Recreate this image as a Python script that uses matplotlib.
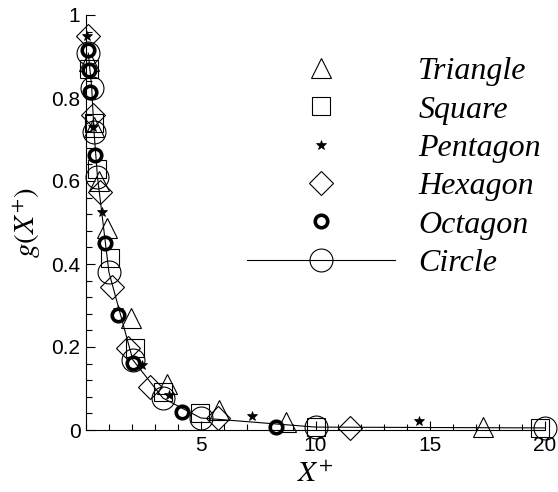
import matplotlib
matplotlib.use('Agg')
from matplotlib import pyplot as plt
from matplotlib.ticker import MultipleLocator

# Data
triangle_x = [0.12, 0.35, 0.55, 0.91, 1.95, 3.55, 5.8, 8.7, 17.3]
triangle_y = [0.89, 0.73, 0.60, 0.487, 0.27, 0.11, 0.048, 0.02, 0.007]

square_x = [0.15, 0.35, 0.5, 1.04, 2.13, 3.35, 4.96, 10.0, 19.8]
square_y = [0.87, 0.74, 0.63, 0.414, 0.198, 0.092, 0.041, 0.008, 0.005]

pentagon_x = [0.04, 0.3, 0.7, 1.4, 2.45, 3.6, 7.25, 14.5]
pentagon_y = [0.95, 0.73, 0.525, 0.29, 0.157, 0.084, 0.034, 0.022]

hexagon_x = [0.1, 0.3, 0.61, 1.13, 1.83, 2.78, 5.74, 11.5]
hexagon_y = [0.95, 0.76, 0.573, 0.345, 0.198, 0.104, 0.029, 0.005]

octagon_x = [0.1, 0.13, 0.18, 0.39, 0.83, 1.39, 2.04, 4.17, 8.26]
octagon_y = [0.916, 0.867, 0.814, 0.663, 0.45, 0.277, 0.161, 0.043, 0.007]

circle_x = [0.1, 0.25, 0.35, 0.5, 1.0, 2.04, 3.35, 5.0, 10.0, 20.0]
circle_y = [0.908, 0.824, 0.718, 0.61, 0.38, 0.169, 0.077, 0.029, 0.007, 0.005]

x_ticks = [5, 10, 15, 20]
y_ticks = [0, 0.2, 0.4, 0.6, 0.8, 1]
y_tick_labels = ['0', '0.2', '0.4', '0.6', '0.8', '1']

plt.rcParams['mathtext.fontset'] = 'stix'
plt.rcParams['font.family'] = ['Liberation Sans', 'DejaVu Sans']

fig = plt.figure(figsize=(5.58, 4.92), dpi=100)
ax = fig.add_axes([86 / 558, 1 - 430 / 492, 459 / 558, 415 / 492])

common = dict(linestyle='none', color='black', markerfacecolor='none',
              markeredgecolor='black', clip_on=False)

ax.plot(triangle_x, triangle_y, marker='^', markersize=14, markeredgewidth=0.8,
        label='Triangle', **common)
ax.plot(square_x, square_y, marker='s', markersize=12.5, markeredgewidth=0.8,
        label='Square', **common)
ax.plot(pentagon_x, pentagon_y, linestyle='none', marker='*', markersize=7,
        color='black', markeredgewidth=0.5, label='Pentagon', clip_on=False)
ax.plot(hexagon_x, hexagon_y, marker='D', markersize=12, markeredgewidth=0.8,
        label='Hexagon', **common)
ax.plot(octagon_x, octagon_y, linestyle='none', marker='o', markersize=9,
        markerfacecolor='white', markeredgecolor='black', markeredgewidth=2.6,
        label='Octagon', clip_on=False)
ax.plot(circle_x, circle_y, linestyle='-', linewidth=0.8, color='black',
        marker='o', markersize=16.5, markerfacecolor='none',
        markeredgecolor='black', markeredgewidth=0.8, label='Circle', clip_on=False)

# Axes: only left and bottom, ticks pointing inward
ax.set_xlim(0, 20)
ax.set_ylim(0, 1)
ax.spines['top'].set_visible(False)
ax.spines['right'].set_visible(False)
ax.spines['left'].set_linewidth(0.8)
ax.spines['bottom'].set_linewidth(0.8)

ax.set_xticks(x_ticks)
ax.set_yticks(y_ticks)
ax.set_yticklabels(y_tick_labels)
ax.xaxis.set_minor_locator(MultipleLocator(1))
ax.yaxis.set_minor_locator(MultipleLocator(0.04))
ax.tick_params(which='major', direction='in', length=6.5, width=0.8,
               labelsize=15, pad=4)
ax.tick_params(which='minor', direction='in', length=4.5, width=0.8)
ax.tick_params(top=False, right=False)

ax.set_xlabel('$X^{+}$', fontsize=21, labelpad=4)
ax.set_ylabel('$g(X^{+})$', fontsize=21, labelpad=5)

leg = ax.legend(loc='upper left', bbox_to_anchor=(247 / 558, 1 - 57 / 492),
                bbox_transform=fig.transFigure, frameon=False,
                prop={'family': 'Liberation Serif', 'style': 'italic', 'size': 23},
                handlelength=4.64, handletextpad=0.72, labelspacing=0.28,
                borderpad=0, borderaxespad=0, numpoints=1)

plt.savefig('out.png', dpi=100)
plt.close()
